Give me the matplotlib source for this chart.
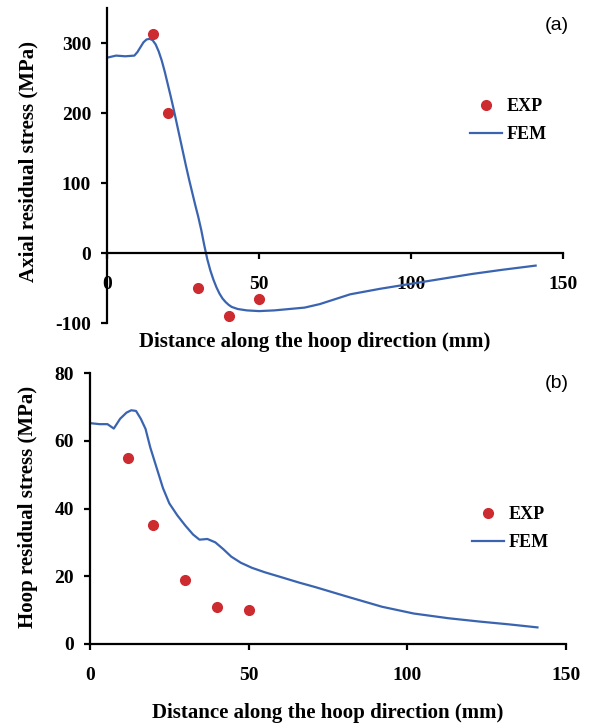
import matplotlib
matplotlib.use("Agg")
import matplotlib.pyplot as plt

plt.rcParams["axes.unicode_minus"] = False

# panel (a) axial stress
fem_a_x = [0, 3, 6, 9, 10, 11, 12, 13, 14, 15, 16, 17, 18, 19, 20, 21, 22, 23, 24, 25, 26, 27,
           28, 29, 30, 31, 32, 33, 34, 35, 36, 37, 38, 39, 40, 41, 43, 46, 50, 55, 60, 65, 70,
           75, 80, 90, 100, 110, 120, 130, 141]
fem_a_y = [279, 282, 281, 282, 287, 294, 301, 305, 306, 304, 298, 288, 275, 259, 241, 223, 204,
           184, 164, 144, 124, 105, 87, 69, 52, 33, 11, -9, -25, -38, -49, -58, -65, -70, -74,
           -77, -80, -82, -83, -82, -80, -78, -73, -66, -59, -51, -44, -37, -30, -24, -18]
exp_a_x = [15, 20, 30, 40, 50]
exp_a_y = [313, 200, -50, -90, -65]

# panel (b) hoop stress
fem_b_x = [0, 3, 5.5, 7.5, 9.5, 11.5, 13, 14.5, 16, 17.5, 19, 21, 23, 25, 27.5, 30, 32.5, 34.5,
           37, 39.5, 42, 44.5, 47.5, 51, 55, 60, 66, 71, 81, 92, 102, 113, 123, 132, 141]
fem_b_y = [65.2, 64.9, 64.9, 63.6, 66.5, 68.3, 69.0, 68.8, 66.5, 63.5, 58, 52, 46, 41.5, 38, 35,
           32.3, 30.8, 31, 30, 28, 25.8, 24, 22.5, 21.2, 19.8, 18.1, 16.8, 14, 11, 9, 7.6, 6.6, 5.8, 4.9]
exp_b_x = [12, 20, 30, 40, 50]
exp_b_y = [55, 35, 19, 11, 10]

xticks = [0, 50, 100, 150]
yticks_a = [-100, 0, 100, 200, 300]
yticks_b = [0, 20, 40, 60, 80]

W, H = 594, 727
serif = "Liberation Serif"
blue = "#3a64b0"
red = "#cc2b30"

fig = plt.figure(figsize=(W / 100, H / 100), dpi=100)

def px(x0, y0, x1, y1):
    return [x0 / W, 1 - y1 / H, (x1 - x0) / W, (y1 - y0) / H]

ax1 = fig.add_axes(px(107, 8, 563, 323))
ax2 = fig.add_axes(px(90, 373, 566, 644))

def style(ax):
    for s in ["top", "right"]:
        ax.spines[s].set_visible(False)
    for s in ["left", "bottom"]:
        ax.spines[s].set_linewidth(1.6)
    ax.tick_params(axis="both", direction="out", length=4.5, width=1.6,
                   labelsize=14)
    ax.tick_params(axis="x", pad=12)
    ax.tick_params(axis="y", pad=7)
    for lab in ax.get_xticklabels() + ax.get_yticklabels():
        lab.set_fontfamily(serif)
        lab.set_fontweight("bold")

# (a)
ax1.plot(fem_a_x, fem_a_y, color=blue, lw=1.6, label="FEM", zorder=2)
ax1.plot(exp_a_x, exp_a_y, "o", color=red, ms=7, label="EXP", zorder=3)
ax1.set_xlim(0, 150)
ax1.set_ylim(-100, 350)
ax1.set_xticks(xticks)
ax1.set_yticks(yticks_a)
ax1.spines["bottom"].set_position(("data", 0))
ax1.spines["bottom"].set_bounds(0, 150)
ax1.spines["left"].set_bounds(-100, 350)
style(ax1)

# (b)
ax2.plot(fem_b_x, fem_b_y, color=blue, lw=1.6, label="FEM", zorder=2)
ax2.plot(exp_b_x, exp_b_y, "o", color=red, ms=7, label="EXP", zorder=3)
ax2.set_xlim(0, 150)
ax2.set_ylim(0, 80)
ax2.set_xticks(xticks)
ax2.set_yticks(yticks_b)
style(ax2)

lfont = {"family": serif, "weight": "bold", "size": 13}
for ax, x0, y0 in [(ax1, 470, 98), (ax2, 472, 506)]:
    h, l = ax.get_legend_handles_labels()
    ax.legend(h[::-1], l[::-1], loc="upper left", frameon=False, prop=lfont,
              bbox_to_anchor=(x0 / W, 1 - y0 / H), bbox_transform=fig.transFigure,
              borderpad=0, borderaxespad=0, handlelength=1.75, handletextpad=0.3,
              labelspacing=0.6)

tfont = dict(family=serif, weight="bold", size=15, ha="center", va="center")
fig.text(315 / W, 1 - 342 / H, "Distance along the hoop direction (mm)", **tfont)
fig.text(328 / W, 1 - 713 / H, "Distance along the hoop direction (mm)", **tfont)
fig.text(28 / W, 1 - 162 / H, "Axial residual stress (MPa)", rotation=90, **tfont)
fig.text(28 / W, 1 - 507 / H, "Hoop residual stress (MPa)", rotation=90, **tfont)

fig.text(557 / W, 1 - 25 / H, "(a)", family="Liberation Sans", size=14, ha="center", va="center")
fig.text(557 / W, 1 - 384 / H, "(b)", family="Liberation Sans", size=14, ha="center", va="center")

fig.savefig("out.png", dpi=100)
